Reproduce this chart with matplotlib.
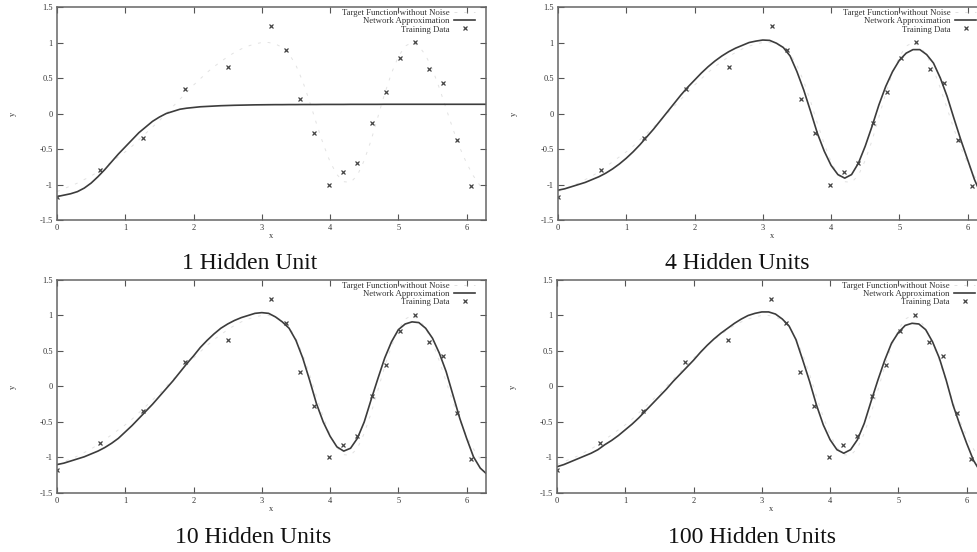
import matplotlib
matplotlib.use("Agg")
import matplotlib.pyplot as plt

plt.rcParams['font.family'] = ['Liberation Serif', 'DejaVu Serif']

# ------------------------------
# Data
# ------------------------------
train_x = [0.00, 0.63, 1.26, 1.88, 2.51, 3.14, 3.35, 3.56, 3.77, 3.98,
           4.19, 4.40, 4.61, 4.82, 5.03, 5.24, 5.45, 5.65, 5.86, 6.07]
train_y = [-1.17, -0.79, -0.35, 0.35, 0.65, 1.23, 0.90, 0.21, -0.28, -1.00,
           -0.83, -0.70, -0.14, 0.30, 0.78, 1.01, 0.62, 0.43, -0.37, -1.02]

curve_x = [0.0, 0.1, 0.2, 0.3, 0.4, 0.5, 0.6, 0.7, 0.8, 0.9,
           1.0, 1.1, 1.2, 1.3, 1.4, 1.5, 1.6, 1.7, 1.8, 1.9,
           2.0, 2.1, 2.2, 2.3, 2.4, 2.5, 2.6, 2.7, 2.8, 2.9,
           3.0, 3.1, 3.2, 3.3, 3.4, 3.5, 3.6, 3.7, 3.8, 3.9,
           4.0, 4.1, 4.2, 4.3, 4.4, 4.5, 4.6, 4.7, 4.8, 4.9,
           5.0, 5.1, 5.2, 5.3, 5.4, 5.5, 5.6, 5.7, 5.8, 5.9,
           6.0, 6.1, 6.2, 6.28]

target_y = [-1.10, -1.06, -1.02, -0.98, -0.93, -0.88, -0.82, -0.75, -0.68, -0.61,
            -0.54, -0.46, -0.37, -0.28, -0.19, -0.10, 0.00, 0.10, 0.20, 0.30,
            0.40, 0.49, 0.58, 0.66, 0.73, 0.80, 0.86, 0.91, 0.95, 0.98,
            1.00, 1.00, 0.98, 0.93, 0.84, 0.68, 0.45, 0.17, -0.14, -0.43,
            -0.68, -0.86, -0.96, -0.97, -0.87, -0.66, -0.38, -0.05, 0.28, 0.57,
            0.80, 0.95, 1.00, 0.95, 0.82, 0.62, 0.36, 0.07, -0.22, -0.48,
            -0.70, -0.88, -1.02, -1.08]

net_1 = [-1.17, -1.15, -1.13, -1.10, -1.05, -0.98, -0.89, -0.79, -0.68, -0.57,
         -0.47, -0.37, -0.27, -0.19, -0.11, -0.05, 0.00, 0.03, 0.06, 0.075,
         0.085, 0.095, 0.10, 0.105, 0.11, 0.113, 0.116, 0.118, 0.12, 0.122,
         0.123, 0.124, 0.125, 0.125, 0.126, 0.126, 0.127, 0.127, 0.127, 0.128,
         0.128, 0.128, 0.128, 0.129, 0.129, 0.129, 0.129, 0.129, 0.13, 0.13,
         0.13, 0.13, 0.13, 0.13, 0.13, 0.13, 0.13, 0.13, 0.13, 0.13,
         0.13, 0.13, 0.13, 0.13]

net_4 = [-1.08, -1.06, -1.03, -1.00, -0.97, -0.93, -0.89, -0.84, -0.78, -0.71,
         -0.63, -0.54, -0.44, -0.33, -0.22, -0.10, 0.02, 0.14, 0.26, 0.37,
         0.47, 0.57, 0.66, 0.74, 0.81, 0.87, 0.92, 0.96, 1.00, 1.02,
         1.035, 1.03, 0.99, 0.93, 0.81, 0.59, 0.33, 0.03, -0.28, -0.53,
         -0.73, -0.86, -0.91, -0.86, -0.70, -0.46, -0.18, 0.12, 0.38, 0.59,
         0.75, 0.85, 0.90, 0.90, 0.83, 0.71, 0.50, 0.24, -0.07, -0.37,
         -0.65, -0.93, -1.15, -1.30]

net_10 = [-1.10, -1.08, -1.05, -1.02, -0.99, -0.95, -0.91, -0.86, -0.80, -0.73,
          -0.64, -0.55, -0.45, -0.35, -0.25, -0.14, -0.03, 0.08, 0.20, 0.32,
          0.43, 0.55, 0.65, 0.74, 0.82, 0.88, 0.93, 0.97, 1.00, 1.03,
          1.04, 1.03, 0.98, 0.91, 0.82, 0.65, 0.40, 0.09, -0.24, -0.50,
          -0.70, -0.85, -0.91, -0.87, -0.73, -0.50, -0.19, 0.11, 0.40, 0.63,
          0.80, 0.88, 0.91, 0.90, 0.82, 0.68, 0.47, 0.21, -0.12, -0.45,
          -0.73, -0.99, -1.15, -1.22]

net_100 = [-1.13, -1.10, -1.06, -1.02, -0.98, -0.94, -0.89, -0.82, -0.76, -0.69,
           -0.61, -0.53, -0.44, -0.34, -0.24, -0.14, -0.04, 0.07, 0.17, 0.27,
           0.37, 0.48, 0.58, 0.67, 0.75, 0.82, 0.89, 0.95, 1.00, 1.03,
           1.05, 1.05, 1.02, 0.95, 0.85, 0.66, 0.37, 0.07, -0.26, -0.54,
           -0.75, -0.89, -0.94, -0.89, -0.75, -0.52, -0.21, 0.09, 0.37, 0.61,
           0.76, 0.86, 0.89, 0.88, 0.80, 0.63, 0.40, 0.09, -0.26, -0.54,
           -0.80, -1.04, -1.20, -1.30]

captions = ["1 Hidden Unit", "4 Hidden Units", "10 Hidden Units", "100 Hidden Units"]
x_ticks = [0, 1, 2, 3, 4, 5, 6]
y_ticks = [1.5, 1, 0.5, 0, -0.5, -1, -1.5]
y_tick_labels = ["1.5", "1", "0.5", "0", "-0.5", "-1", "-1.5"]

# ------------------------------
# Figure
# ------------------------------
fig = plt.figure(figsize=(9.77, 5.52), dpi=100)

w, h = 0.4391, 0.3859
boxes = [[0.0583, 0.6014, w, h], [0.5711, 0.6014, w, h],
         [0.0583, 0.1069, w, h], [0.5701, 0.1069, w, h]]
caption_pos = [(0.256, 0.523), (0.755, 0.523), (0.259, 0.027), (0.770, 0.027)]
nets = [net_1, net_4, net_10, net_100]

for box, net, cap, cpos in zip(boxes, nets, captions, caption_pos):
    ax = fig.add_axes(box)
    # the noise-free target is very faint in the scan
    ax.plot(curve_x, target_y, color="#e2e2e2", lw=0.7, dashes=(3, 7),
            label="Target Function without Noise")
    ax.plot(curve_x, net, color="#3c3c3c", lw=1.2, label="Network Approximation")
    ax.plot(train_x, train_y, ls="none", marker="x", ms=3.5, mew=0.9,
            color="#444444", label="Training Data")

    ax.set_xlim(0, 6.2832)
    ax.set_ylim(-1.5, 1.5)
    ax.set_xticks(x_ticks)
    ax.set_yticks(y_ticks)
    ax.set_yticklabels(y_tick_labels)
    ax.tick_params(direction="in", top=True, right=True, length=4, width=0.8,
                   labelsize=6, pad=3, color="#555555", labelcolor="#333333")
    for s in ax.spines.values():
        s.set_color("#666666")
        s.set_linewidth(1.1)
    ax.set_xlabel("x", fontsize=6, labelpad=0, color="#333333")
    ax.set_ylabel("y", fontsize=6, labelpad=16, color="#333333")

    ax.legend(loc="upper right", bbox_to_anchor=(0.975, 0.99), markerfirst=False,
              frameon=False, fontsize=6.3, handlelength=2.4, handletextpad=0.5,
              labelspacing=0.0, borderpad=0, borderaxespad=0, labelcolor="#333333")

    fig.text(cpos[0], cpos[1], cap, fontsize=17, ha="center", va="center", color="#111111")

fig.savefig("out.png", dpi=100)
